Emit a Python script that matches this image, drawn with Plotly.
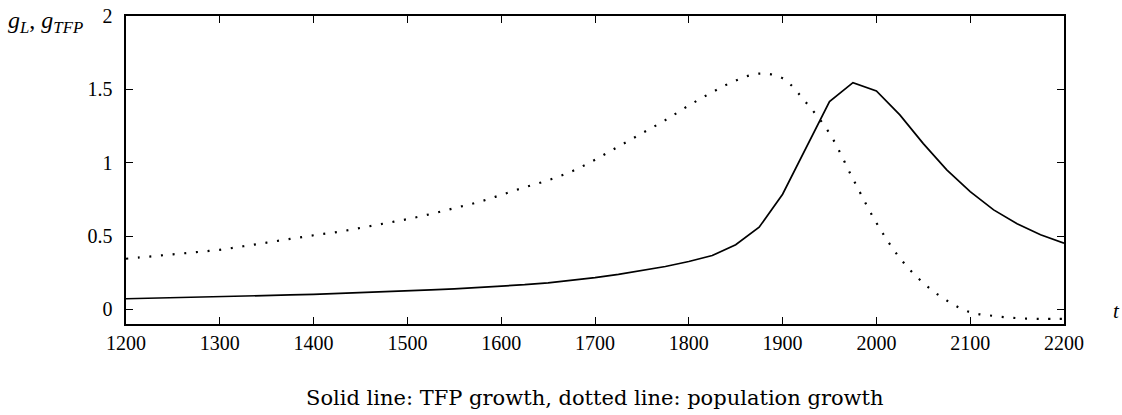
import plotly.graph_objects as go

# Solid line: TFP growth (knots every 25 years)
years_tfp = [1200, 1225, 1250, 1275, 1300, 1325, 1350, 1375, 1400, 1425, 1450, 1475,
             1500, 1525, 1550, 1575, 1600, 1625, 1650, 1675, 1700, 1725, 1750, 1775,
             1800, 1825, 1850, 1875, 1900, 1925, 1950, 1975, 2000, 2025, 2050, 2075,
             2100, 2125, 2150, 2175, 2200]
g_tfp = [0.072, 0.075, 0.078, 0.081, 0.085, 0.089, 0.093, 0.098, 0.102, 0.107, 0.112, 0.118,
         0.125, 0.132, 0.140, 0.148, 0.157, 0.168, 0.181, 0.197, 0.216, 0.238, 0.263, 0.292,
         0.326, 0.367, 0.440, 0.560, 0.785, 1.100, 1.417, 1.546, 1.489, 1.326, 1.130, 0.951,
         0.803, 0.678, 0.583, 0.508, 0.451]

# Dotted line: population growth
years_pop = years_tfp
g_pop = [0.345, 0.360, 0.375, 0.390, 0.406, 0.430, 0.455, 0.480, 0.505, 0.527, 0.555, 0.585,
         0.615, 0.650, 0.690, 0.730, 0.780, 0.832, 0.880, 0.940, 1.020, 1.110, 1.200, 1.290,
         1.390, 1.480, 1.560, 1.607, 1.575, 1.410, 1.200, 0.890, 0.590, 0.350, 0.180, 0.060,
         -0.020, -0.045, -0.060, -0.065, -0.065]

x_ticks = [1200, 1300, 1400, 1500, 1600, 1700, 1800, 1900, 2000, 2100, 2200]
y_ticks = [0, 0.5, 1, 1.5, 2]
y_tick_labels = ["0", "0.5", "1", "1.5", "2"]

fig = go.Figure()
fig.add_trace(go.Scatter(x=years_pop, y=g_pop, mode="lines",
                         line=dict(color="black", width=2.2, dash="2px,9.7px", shape="spline"),
                         showlegend=False))
fig.add_trace(go.Scatter(x=years_tfp, y=g_tfp, mode="lines",
                         line=dict(color="black", width=1.7),
                         showlegend=False))

axis_common = dict(showline=True, linecolor="black", linewidth=1.6, mirror="ticks",
                   ticks="inside", ticklen=7, tickwidth=1, tickcolor="black",
                   showgrid=False, zeroline=False, automargin=False,
                   tickfont=dict(family="Liberation Serif", size=20, color="black"))

fig.update_xaxes(range=[1200, 2200], tickvals=x_ticks, ticklabelstandoff=0, **axis_common)
fig.update_yaxes(range=[-0.1, 2], tickvals=y_ticks, ticktext=y_tick_labels,
                 ticklabelstandoff=8, **axis_common)

fig.add_annotation(xref="paper", yref="paper", x=-0.128, y=1.035, xanchor="left", yanchor="top",
                   text="<i>g</i><sub><i>L</i></sub>, <i>g</i><sub><i>TFP</i></sub>",
                   showarrow=False, font=dict(family="Liberation Serif", size=24, color="black"))
fig.add_annotation(xref="paper", yref="paper", x=1.056, y=0.042, xanchor="center", yanchor="middle",
                   text="<i>t</i>", showarrow=False,
                   font=dict(family="Liberation Serif", size=21, color="black"))
fig.add_annotation(xref="paper", yref="paper", x=0.5, y=-0.24, xanchor="center", yanchor="middle",
                   text="Solid line: TFP growth, dotted line: population growth", showarrow=False,
                   font=dict(family="DejaVu Serif", size=21, color="black"))

fig.update_layout(width=1122, height=415, autosize=False,
                  plot_bgcolor="white", paper_bgcolor="white",
                  margin=dict(l=126, r=58, t=16, b=91, pad=0))

fig.write_html("out.html", config={"displayModeBar": False, "staticPlot": True},
               post_script="document.body.style.margin='0';document.body.style.overflow='hidden';")
